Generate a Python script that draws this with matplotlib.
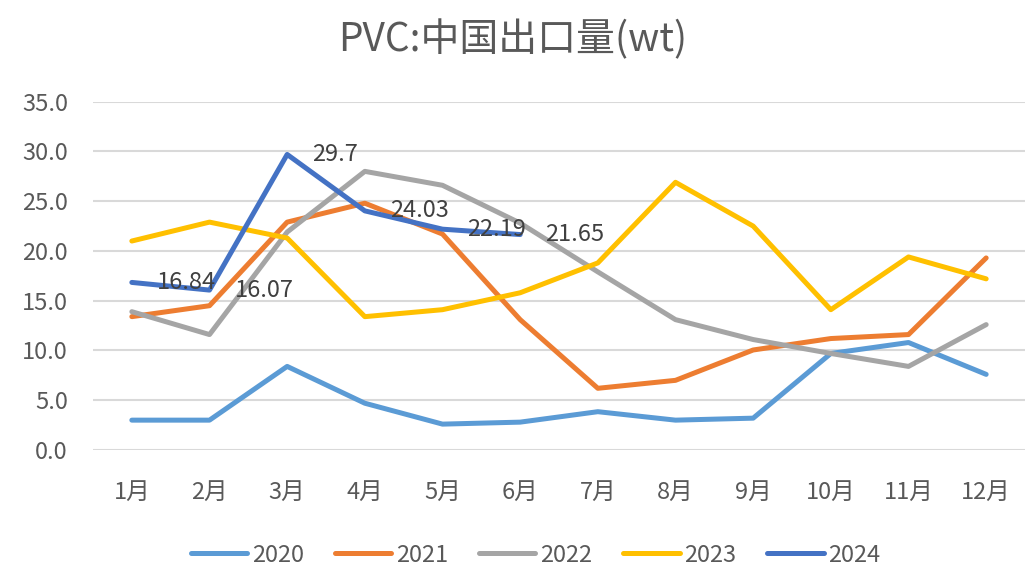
import numpy as np
import matplotlib
matplotlib.use('Agg')
import matplotlib.pyplot as plt

plt.rcParams['font.family'] = ['Noto Sans CJK SC', 'DejaVu Sans']

months = ['1月', '2月', '3月', '4月', '5月', '6月', '7月', '8月', '9月', '10月', '11月', '12月']
v2020 = [3.0, 3.0, 8.4, 4.7, 2.6, 2.8, 3.85, 3.0, 3.2, 9.7, 10.8, 7.6]
v2021 = [13.4, 14.5, 22.9, 24.8, 21.7, 13.1, 6.2, 7.0, 10.05, 11.2, 11.6, 19.3]
v2022 = [13.9, 11.6, 21.9, 28.0, 26.6, 22.8, 17.9, 13.1, 11.1, 9.7, 8.4, 12.6]
v2023 = [21.0, 22.9, 21.3, 13.4, 14.1, 15.8, 18.8, 26.9, 22.5, 14.1, 19.4, 17.2]
v2024 = [16.84, 16.07, 29.7, 24.03, 22.19, 21.65]

series = [('2020', v2020, '#5B9BD5'),
          ('2021', v2021, '#ED7D31'),
          ('2022', v2022, '#A5A5A5'),
          ('2023', v2023, '#FFC000'),
          ('2024', v2024, '#4472C4')]

text_color = '#595959'

fig = plt.figure(figsize=(10.26, 5.68), dpi=100)
ax = fig.add_axes([93 / 1026, 118 / 568, 932 / 1026, 348.3 / 568])

x = np.arange(len(months))
for name, vals, color in series:
    ax.plot(x[:len(vals)], vals, color=color, lw=3.6, label=name,
            solid_capstyle='round', solid_joinstyle='round')

# data labels for 2024
for xi, v in zip(x, v2024):
    ax.annotate(f'{v:g}', (xi, v), xytext=(25, 0), textcoords='offset pixels',
                ha='left', va='center', fontsize=17, color='#404040')

ax.set_xlim(-0.5, 11.5)
ax.set_ylim(0, 35)
ax.set_yticks(np.arange(0, 36, 5))
ax.set_yticklabels([f'{t:.1f}' for t in np.arange(0, 36, 5)])
ax.set_xticks(x)
ax.set_xticklabels(months)
ax.tick_params(axis='both', length=0, labelsize=17, labelcolor=text_color)
ax.tick_params(axis='y', pad=18)
ax.tick_params(axis='x', pad=22)
ax.grid(axis='y', color='#D9D9D9', lw=1.5)
ax.set_axisbelow(True)
for s in ax.spines.values():
    s.set_visible(False)

fig.suptitle('PVC:中国出口量(wt)', fontsize=28, color=text_color, y=0.965)

fig.legend(loc='lower center', bbox_to_anchor=(0.522, -0.035), ncol=5, frameon=False,
           fontsize=17, labelcolor=text_color, handlelength=2.4, handletextpad=0.2,
           columnspacing=1.3)

fig.savefig('out.png', dpi=100)
